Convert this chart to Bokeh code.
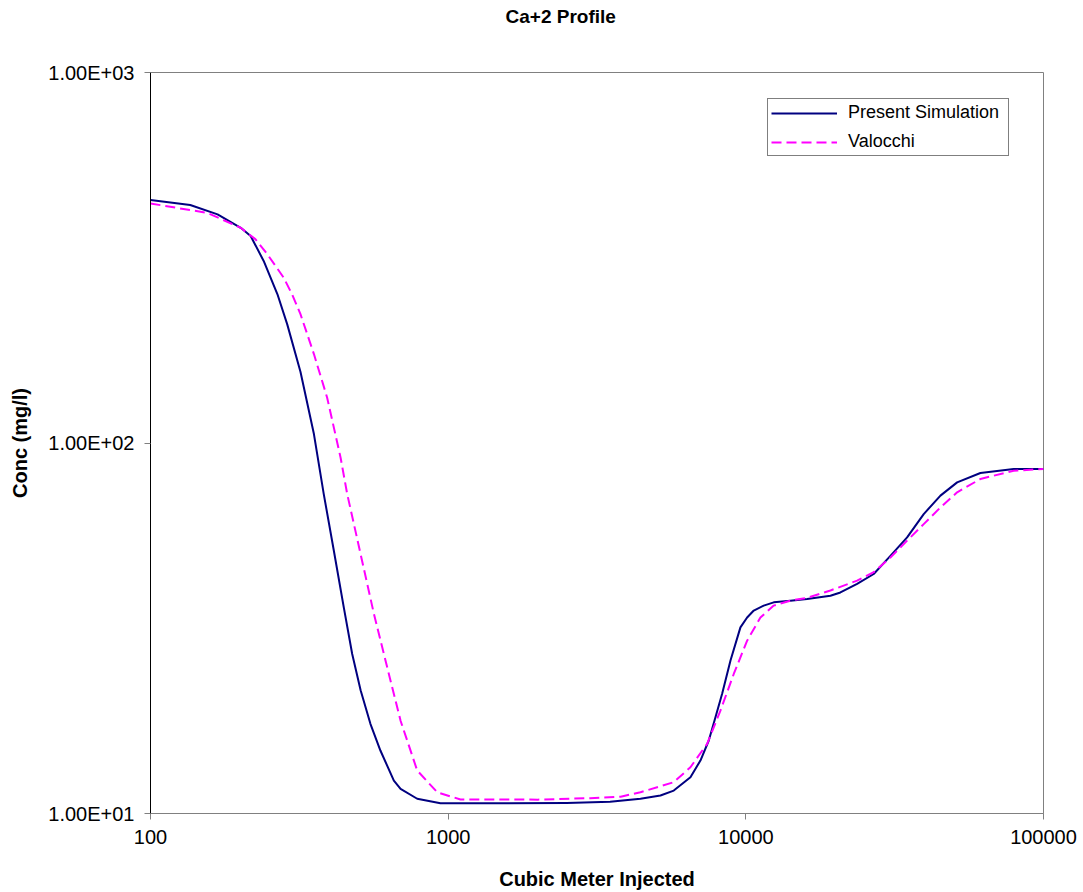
from bokeh.plotting import figure
from bokeh.models import Range1d, FixedTicker, Legend, LegendItem, Title
from bokeh.embed import file_html
from bokeh.resources import INLINE

# Present Simulation (navy, solid)
sim_x = [100, 136, 168, 201, 217, 240, 267, 288, 319, 354, 382, 413, 446, 476, 508, 548,
         592, 657, 692, 787, 942, 1500, 2500, 3500, 4426, 5166, 5726, 6515, 7038, 7508,
         7906, 8325, 8881, 9590, 10101, 10632, 11484, 12408, 14114, 16065, 19240, 20785,
         23650, 26890, 30600, 34820, 39590, 45060, 51270, 61380, 79410, 100000]
sim_y = [453, 439, 414, 381, 362, 310, 252, 209, 155.7, 105.7, 72.8, 51.2, 36.0, 26.95, 21.5, 17.46,
         14.79, 12.27, 11.65, 10.96, 10.66, 10.65, 10.68, 10.75, 10.96, 11.18, 11.53, 12.53, 13.9, 15.74,
         18.19, 21.04, 25.87, 31.8, 33.8, 35.3, 36.4, 37.15, 37.54, 37.9, 38.7, 39.5,
         41.66, 44.3, 49.6, 55.6, 64.3, 72.1, 78.3, 82.98, 85.06, 85.06]

# Valocchi (magenta, dashed)
val_x = [100, 155, 201, 225, 247, 280, 299, 319, 354, 392, 435, 458, 508, 563, 624, 692,
         787, 919, 1100, 2000, 3000, 3800, 4426, 5726, 6515, 7413, 8216, 9108, 10101,
         11194, 12408, 14114, 16065, 19240, 23650, 26890, 30600, 34820, 39590, 45060,
         51270, 61380, 79410, 100000]
val_y = [443, 418, 381, 355, 323, 279.6, 252, 222.8, 173.8, 132.7, 91.4, 72.8, 50.1, 34.6, 24.8, 17.8,
         13.06, 11.41, 10.91, 10.9, 11.0, 11.1, 11.41, 12.15, 13.33, 15.42, 18.96, 23.8, 29.28,
         33.8, 36.4, 37.54, 38.2, 40.0, 42.5, 44.8, 49.1, 54.5, 60.4, 67.0,
         73.6, 79.96, 84.2, 85.06]

x_ticks = [100, 1000, 10000, 100000]
x_tick_labels = ["100", "1000", "10000", "100000"]
y_ticks = [10, 100, 1000]
y_tick_labels = ["1.00E+01", "1.00E+02", "1.00E+03"]

FONT = "Liberation Sans"

p = figure(width=1083, height=892, x_axis_type="log", y_axis_type="log",
           x_range=Range1d(100, 100000), y_range=Range1d(10, 1000),
           output_backend="svg", toolbar_location=None,
           min_border_left=150, min_border_right=40, min_border_top=72, min_border_bottom=79)

# spacer panel between frame and title, then the title itself
spacer = Title(text=" ", text_font_size="1px", standoff=42)
p.add_layout(spacer, "above")
main_title = Title(text="Ca+2 Profile", align="left", offset=355, standoff=2,
                   text_font=FONT, text_font_size="19px", text_font_style="bold",
                   text_color="black")
p.add_layout(main_title, "above")

p.background_fill_color = "white"
p.border_fill_color = "white"
p.outline_line_color = "#808080"
p.outline_line_width = 1
p.xgrid.visible = False
p.ygrid.visible = False

r_sim = p.line(sim_x, sim_y, line_color="#000080", line_width=2, line_join="round")
r_val = p.line(val_x, val_y, line_color="#FF00FF", line_width=2, line_dash="10 5", line_join="round")

for ax, ticks, labels in ((p.xaxis[0], x_ticks, x_tick_labels), (p.yaxis[0], y_ticks, y_tick_labels)):
    ax.ticker = FixedTicker(ticks=ticks, minor_ticks=[])
    ax.major_label_overrides = {t: l for t, l in zip(ticks, labels)}
    ax.major_label_text_font = FONT
    ax.major_label_text_font_size = "20px"
    ax.major_label_text_color = "black"
    ax.major_tick_in = 0
    ax.major_tick_out = 6
    ax.minor_tick_line_color = None
    ax.axis_label_text_font = FONT
    ax.axis_label_text_font_size = "20px"
    ax.axis_label_text_font_style = "bold"
    ax.axis_label_text_color = "black"
    ax.major_label_standoff = 10

p.xaxis.axis_label = "Cubic Meter Injected"
p.yaxis.axis_label = "Conc (mg/l)"
p.xaxis.axis_line_color = "#808080"
p.xaxis.major_tick_line_color = "#808080"
p.yaxis.axis_line_color = "black"
p.yaxis.major_tick_line_color = "#808080"
p.xaxis.axis_label_standoff = 21
p.yaxis.axis_label_standoff = 14

legend = Legend(items=[LegendItem(label="Present Simulation", renderers=[r_sim]),
                       LegendItem(label="Valocchi", renderers=[r_val])],
                location=(617, 657), orientation="vertical",
                border_line_color="black", border_line_width=1,
                background_fill_color="white", background_fill_alpha=1,
                label_text_font=FONT, label_text_font_size="18px", label_text_color="black",
                glyph_width=66, glyph_height=20, label_height=20, label_width=157,
                label_standoff=11, spacing=8, padding=3, margin=0)
p.add_layout(legend, "center")

open("out.html", "w").write(file_html(p, INLINE))
